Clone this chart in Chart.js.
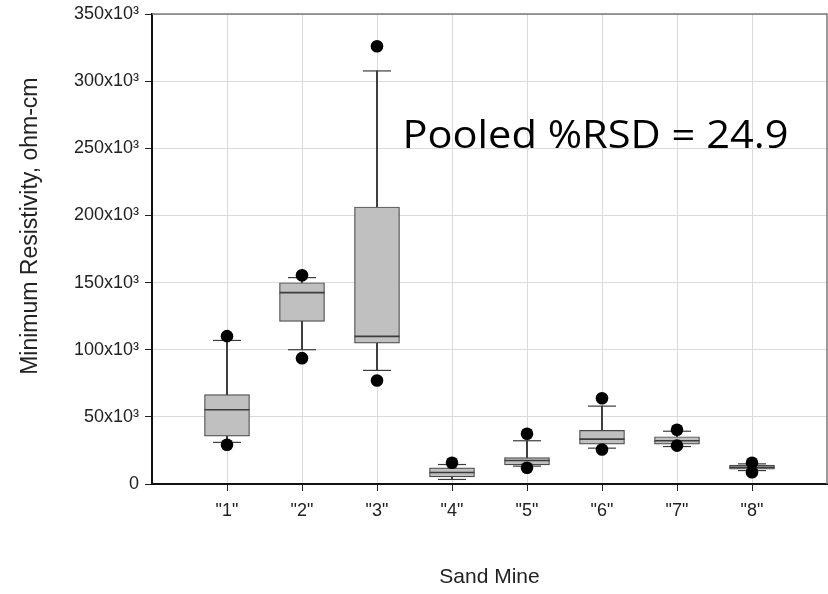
<!DOCTYPE html>
<html><head><meta charset="utf-8">
<script src="https://cdn.jsdelivr.net/npm/chart.js@4/dist/chart.umd.min.js"></script>
<style>html,body{margin:0;padding:0;background:#fff;} #wrap{width:828px;height:594px;}</style>
</head><body><div id="wrap"><canvas id="c" width="828" height="594"></canvas></div>
<script>
// ---- data ----
const categories   = ['"1"', '"2"', '"3"', '"4"', '"5"', '"6"', '"7"', '"8"'];
const catIndex     = [1, 2, 3, 4, 5, 6, 7, 8];
const q1           = [35600, 121100, 104900, 5300, 14300, 29700, 29700, 11000];
const median       = [55300, 142500, 109900, 8600, 17500, 33400, 32200, 12500];
const q3           = [66500, 149900, 206300, 12000, 19700, 39900, 35200, 14000];
const whiskerLow   = [31000, 100000, 84600, 3400, 13300, 26700, 27900, 10000];
const whiskerHigh  = [106900, 153700, 307600, 14500, 32200, 58000, 39300, 15000];
const outlierLow   = [29200, 93700, 77100, null, 12100, 25700, 28600, 8800];
const outlierHigh  = [110100, 155400, 326000, 15800, 37400, 63900, 40400, 15800];
const yTicks       = [0, 50000, 100000, 150000, 200000, 250000, 300000, 350000];
const annotation   = 'Pooled %RSD = 24.9';
const xTitle       = 'Sand Mine';
const yTitle       = 'Minimum Resistivity, ohm-cm';

// ---- derived datasets ----
const boxData = catIndex.map((c, i) => ({x: c, y: [q1[i], q3[i]]}));
const whiskerData = catIndex.map((c, i) => ({x: c, y: [whiskerLow[i], whiskerHigh[i]]}));
const medianData = catIndex.map((c, i) => ({x: c, y: median[i]}));
const capData = catIndex.flatMap((c, i) => [{x: c, y: whiskerLow[i]}, {x: c, y: whiskerHigh[i]}]);
const outData = catIndex.flatMap((c, i) => [outlierLow[i], outlierHigh[i]]
  .filter(v => v !== null).map(v => ({x: c, y: v})));

const AX_FONT = "'Liberation Sans', Arial, sans-serif";
const DARK = '#3c3c3c';

const framePlugin = {
  id: 'frame',
  afterDraw(chart) {
    const {ctx, chartArea: a} = chart;
    ctx.save();
    ctx.strokeStyle = '#7a7a7a';
    ctx.lineWidth = 1.5;
    ctx.beginPath();
    ctx.moveTo(a.left, a.top);
    ctx.lineTo(a.right, a.top);
    ctx.lineTo(a.right, a.bottom);
    ctx.stroke();

    // y-axis title (rotated)
    ctx.save();
    ctx.font = '23px ' + AX_FONT;
    ctx.fillStyle = '#222';
    ctx.textAlign = 'center';
    ctx.textBaseline = 'alphabetic';
    ctx.translate(37, chart.scales.y.getPixelForValue(192000));
    ctx.rotate(-Math.PI / 2);
    ctx.fillText(yTitle, 0, 0);
    ctx.restore();

    // annotation text, stretched horizontally to the reference width
    const fam = "'Open Sans', Lato, sans-serif";
    ctx.font = '38px ' + fam;
    const w = ctx.measureText(annotation).width;
    ctx.fillStyle = '#000';
    ctx.textAlign = 'left';
    ctx.textBaseline = 'alphabetic';
    const px = chart.scales.x.getPixelForValue(3.34);
    const py = chart.scales.y.getPixelForValue(250000);
    ctx.translate(px, py);
    ctx.scale(386 / w, 1);
    ctx.fillText(annotation, 0, 0);
    ctx.restore();
  }
};

new Chart(document.getElementById('c'), {
  type: 'bar',
  data: {
    datasets: [
      {type: 'scatter', data: outData, order: 0, pointStyle: 'circle', pointRadius: 6.3,
       backgroundColor: '#000', borderWidth: 0, clip: false},
      {type: 'scatter', data: capData, order: 1, pointStyle: 'line', pointRadius: 14,
       borderColor: DARK, borderWidth: 1.2, clip: false},
      {type: 'scatter', data: medianData, order: 2, pointStyle: 'line', pointRadius: 22.5,
       borderColor: DARK, borderWidth: 1.6, clip: false},
      {type: 'bar', data: boxData, order: 3, grouped: false, barThickness: 45,
       backgroundColor: '#c0c0c0', borderColor: '#4a4a4a', borderWidth: 1.2, borderSkipped: false},
      {type: 'bar', data: whiskerData, order: 4, grouped: false, barThickness: 1.3,
       backgroundColor: DARK, borderWidth: 0}
    ]
  },
  options: {
    responsive: false,
    animation: false,
    devicePixelRatio: 1,
    events: [],
    layout: {autoPadding: false, padding: {top: 14, right: 1, bottom: 0, left: 0}},
    plugins: {legend: {display: false}, tooltip: {enabled: false}},
    scales: {
      x: {
        type: 'linear', min: 0, max: 9, offset: false,
        afterBuildTicks: s => { s.ticks = catIndex.map(v => ({value: v})); },
        afterFit: s => { s.height = 110; s.paddingLeft = 0; s.paddingRight = 0; },
        ticks: {
          callback: v => categories[catIndex.indexOf(v)],
          font: {family: AX_FONT, size: 18}, color: '#222', padding: 9,
          autoSkip: false, maxRotation: 0
        },
        grid: {offset: false, color: '#dadada', lineWidth: 1, tickColor: '#222', tickLength: 7},
        border: {color: '#111', width: 2},
        title: {display: true, text: xTitle, color: '#222',
                font: {family: AX_FONT, size: 21}, padding: {top: 0, bottom: 4}}
      },
      y: {
        type: 'linear', min: 0, max: 350000,
        afterBuildTicks: s => { s.ticks = yTicks.map(v => ({value: v})); },
        afterFit: s => { s.width = 152; s.paddingTop = 0; s.paddingBottom = 0; },
        ticks: {
          callback: v => v === 0 ? '0' : (v / 1000) + 'x10\u00B3',
          font: {family: AX_FONT, size: 18}, color: '#222', padding: 6
        },
        grid: {color: '#dadada', lineWidth: 1, tickColor: '#222', tickLength: 7},
        border: {color: '#111', width: 2}
      }
    }
  },
  plugins: [framePlugin]
});
</script>
</body></html>
